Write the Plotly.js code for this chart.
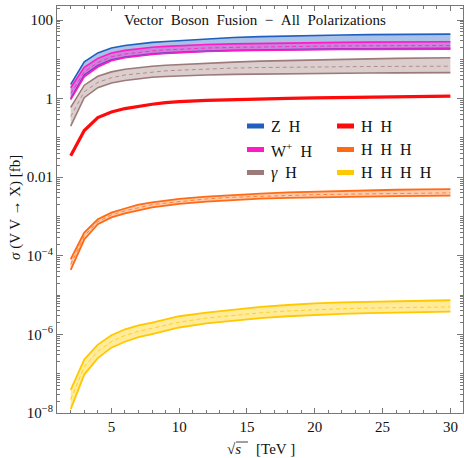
<!DOCTYPE html>
<html><head><meta charset="utf-8">
<script src="https://cdn.plot.ly/plotly-3.0.1.min.js"></script>
<style>body{margin:0;background:#fff}</style>
</head><body><div id="chart" style="width:464px;height:458px"></div>
<script>
// sqrt(s) in TeV
const energy = [2, 3, 4, 5, 6, 7, 8, 9, 10, 12, 14, 16, 18, 20, 22, 24, 26, 28, 30];

// Z H band (fb)
const zhUpper = [2.3, 8.6, 14.6, 19.5, 22.5, 25, 27, 28.6, 30, 33.2, 36, 38, 39.6, 40.8, 41.8, 42.6, 43.2, 43.7, 44];
const zhLower = [1.0, 4.0, 7.0, 9.8, 11.5, 12.8, 13.8, 14.6, 15.2, 16.2, 16.9, 17.4, 17.8, 18.2, 18.5, 18.7, 18.9, 19.1, 19.2];

// W+ H band
const whUpper = [1.9, 6.3, 10.6, 14.5, 16.9, 18.8, 20.3, 21.4, 22.4, 23.8, 24.8, 25.6, 26.2, 26.7, 27.1, 27.4, 27.7, 27.9, 28];
const whCentral = [1.35, 4.8, 8.3, 11.6, 13.6, 15.2, 16.4, 17.4, 18.2, 19.4, 20.2, 20.8, 21.3, 21.7, 22.0, 22.2, 22.3, 22.4, 22.5];
const whLower = [0.94, 3.6, 6.4, 9.2, 11, 12.3, 13.3, 14.1, 14.8, 15.8, 16.5, 17.0, 17.4, 17.7, 17.9, 18.0, 18.1, 18.15, 18.2];

// gamma H band
const ahUpper = [0.6, 2.2, 3.7, 4.8, 5.6, 6.2, 6.7, 7.1, 7.4, 8.0, 8.5, 9.0, 9.4, 9.7, 10.0, 10.3, 10.6, 10.8, 11];
const ahCentral = [0.35, 1.5, 2.6, 3.4, 4.0, 4.4, 4.8, 5.1, 5.3, 5.7, 6.0, 6.2, 6.35, 6.45, 6.52, 6.58, 6.63, 6.67, 6.7];
const ahLower = [0.2, 1.06, 1.9, 2.5, 2.9, 3.2, 3.5, 3.65, 3.8, 4.0, 4.15, 4.25, 4.35, 4.4, 4.45, 4.5, 4.53, 4.57, 4.6];

// H H
const hh = [0.035, 0.155, 0.33, 0.46, 0.56, 0.65, 0.72, 0.79, 0.84, 0.9, 0.95, 0.99, 1.02, 1.05, 1.08, 1.1, 1.12, 1.14, 1.16];

// H H H band
const hhhUpper = [8.2e-5, 3.9e-4, 8.5e-4, 1.26e-3, 1.6e-3, 2.0e-3, 2.3e-3, 2.55e-3, 2.8e-3, 3.2e-3, 3.55e-3, 3.85e-3, 4.1e-3, 4.3e-3, 4.5e-3, 4.65e-3, 4.8e-3, 4.9e-3, 5.0e-3];
const hhhCentral = [6e-5, 3.2e-4, 7.4e-4, 1.1e-3, 1.4e-3, 1.7e-3, 2.0e-3, 2.2e-3, 2.4e-3, 2.8e-3, 3.1e-3, 3.3e-3, 3.45e-3, 3.6e-3, 3.7e-3, 3.8e-3, 3.88e-3, 3.95e-3, 4.0e-3];
const hhhLower = [4.4e-5, 2.6e-4, 6.4e-4, 9.5e-4, 1.2e-3, 1.45e-3, 1.7e-3, 1.9e-3, 2.1e-3, 2.4e-3, 2.65e-3, 2.85e-3, 3.0e-3, 3.1e-3, 3.18e-3, 3.25e-3, 3.3e-3, 3.35e-3, 3.4e-3];

// H H H H band
const hhhhUpper = [3.9e-8, 2.3e-7, 5.5e-7, 9.5e-7, 1.35e-6, 1.7e-6, 2.0e-6, 2.45e-6, 2.9e-6, 3.6e-6, 4.3e-6, 5.0e-6, 5.6e-6, 6.2e-6, 6.5e-6, 6.8e-6, 7.0e-6, 7.2e-6, 7.4e-6];
const hhhhCentral = [2.2e-8, 1.5e-7, 3.7e-7, 6.6e-7, 9.4e-7, 1.2e-6, 1.43e-6, 1.75e-6, 2.05e-6, 2.6e-6, 3.1e-6, 3.55e-6, 3.95e-6, 4.3e-6, 4.5e-6, 4.7e-6, 4.8e-6, 4.9e-6, 5.0e-6];
const hhhhLower = [1.26e-8, 9.5e-8, 2.5e-7, 4.6e-7, 6.5e-7, 8.5e-7, 1.02e-6, 1.25e-6, 1.5e-6, 1.9e-6, 2.25e-6, 2.6e-6, 2.9e-6, 3.15e-6, 3.35e-6, 3.5e-6, 3.62e-6, 3.72e-6, 3.8e-6];

const yTickVals = [1e-8, 1e-6, 1e-4, 0.01, 1, 100];
const yTickText = ['10<sup>\u22128</sup>', '10<sup>\u22126</sup>', '10<sup>\u22124</sup>', '0.01', '1', '100'];
const xTickVals = [5, 10, 15, 20, 25, 30];

const legendLabels = ['Z\u2002H', 'W<sup>+</sup>\u2002H', '<i>\u03b3</i>\u2002H', 'H\u2002H', 'H\u2002H\u2002H', 'H\u2002H\u2002H\u2002H'];

const C = {
  zh: '#1f5fbf', zhFill: 'rgba(31,95,191,0.38)',
  wh: '#ff1ac6', whFill: 'rgba(255,26,198,0.38)',
  ah: '#9c7a7a', ahFill: 'rgba(156,112,112,0.34)',
  hh: '#ff0a0a',
  hhh: '#ff6a14', hhhFill: 'rgba(255,106,20,0.35)',
  hhhh: '#ffc800', hhhhFill: 'rgba(255,204,0,0.40)'
};

function line(y, color, width, extra) {
  return Object.assign({x: energy, y: y, mode: 'lines', line: {color: color, width: width}, showlegend: false, hoverinfo: 'skip'}, extra || {});
}
function band(lower, upper, central, color, fill, w) {
  const t = [line(lower, color, w), line(upper, color, w, {fill: 'tonexty', fillcolor: fill})];
  if (central) t.push(line(central, color, 1, {line: {color: color, width: 1, dash: '4px,3px'}, opacity: 0.75}));
  return t;
}

const traces = [].concat(
  band(zhLower, zhUpper, null, C.zh, C.zhFill, 1.6),
  band(whLower, whUpper, whCentral, C.wh, C.whFill, 1.6),
  band(ahLower, ahUpper, ahCentral, C.ah, C.ahFill, 1.6),
  [line(hh, C.hh, 3.2)],
  band(hhhLower, hhhUpper, hhhCentral, C.hhh, C.hhhFill, 1.8),
  band(hhhhLower, hhhhUpper, hhhhCentral, C.hhhh, C.hhhhFill, 1.8)
);

// minor log ticks
const yMinor = [];
for (let e = -8; e <= 2; e++) for (let m = 1; m <= 9; m++) { const v = m * Math.pow(10, e); if (v <= 230) yMinor.push(v); }

// pixel -> paper helpers (plot area 57..463 x 6..413)
const PX = x => (x - 57) / 406;
const PY = y => (413 - y) / 407;

const FONT = '"Liberation Serif", "Times New Roman", serif';
function note(text, x, y, size, extra) {
  return Object.assign({text: text, x: PX(x), y: PY(y), xref: 'paper', yref: 'paper', xanchor: 'center', yanchor: 'middle', showarrow: false,
    font: {family: FONT, size: size, color: '#111'}}, extra || {});
}
const annotations = [
  note('Vector\u2002Boson\u2002Fusion\u2002\u2212\u2002All\u2002Polarizations', 255, 20, 15),
  note('\u221a<i>s</i>\u2002\u2002[TeV ]', 261, 449, 15),
  note('<i>\u03c3</i> (V V \u2192 X) [fb]', 15, 208, 15, {textangle: -90})
];
const shapes = [
  // radical bar over s
  {type: 'line', xref: 'paper', yref: 'paper', x0: PX(236), x1: PX(248), y0: PY(442), y1: PY(442), line: {color: '#111', width: 0.8}}
];
const legendColors = [C.zh, C.wh, C.ah, C.hh, C.hhh, C.hhhh];
const rowsY = [126, 149.5, 172.5];
legendLabels.forEach((lab, i) => {
  const col = Math.floor(i / 3), row = i % 3;
  const sx = col === 0 ? 247 : 337;
  const yy = rowsY[row];
  shapes.push({type: 'rect', xref: 'paper', yref: 'paper', x0: PX(sx), x1: PX(sx + 17), y0: PY(yy + 2.5), y1: PY(yy - 2.5), fillcolor: legendColors[i], line: {width: 0}});
  annotations.push(note(lab, sx + 22, yy, 16, {xanchor: 'left'}));
});

const axisCommon = {showline: true, linecolor: '#777', linewidth: 1, mirror: 'allticks', ticks: 'inside', tickcolor: '#777', showgrid: false, zeroline: false,
  tickfont: {family: FONT, size: 15, color: '#111'}};

const layout = {
  width: 464, height: 458,
  margin: {l: 57, r: 1, t: 6, b: 45},
  paper_bgcolor: '#fff', plot_bgcolor: '#fff',
  showlegend: false,
  xaxis: Object.assign({}, axisCommon, {range: [0.99, 30.93], tickmode: 'array', tickvals: xTickVals, ticklen: 5,
    minor: {dtick: 1, tick0: 0, ticks: 'inside', ticklen: 3, tickcolor: '#777'}}),
  yaxis: Object.assign({}, axisCommon, {type: 'log', range: [-8, 2.358], tickmode: 'array', tickvals: yTickVals, ticktext: yTickText, ticklen: 6,
    minor: {tickmode: 'array', tickvals: yMinor, ticks: 'inside', ticklen: 3, tickcolor: '#777'}}),
  annotations: annotations,
  shapes: shapes
};

Plotly.newPlot('chart', traces, layout, {staticPlot: true, displayModeBar: false});
</script></body></html>
